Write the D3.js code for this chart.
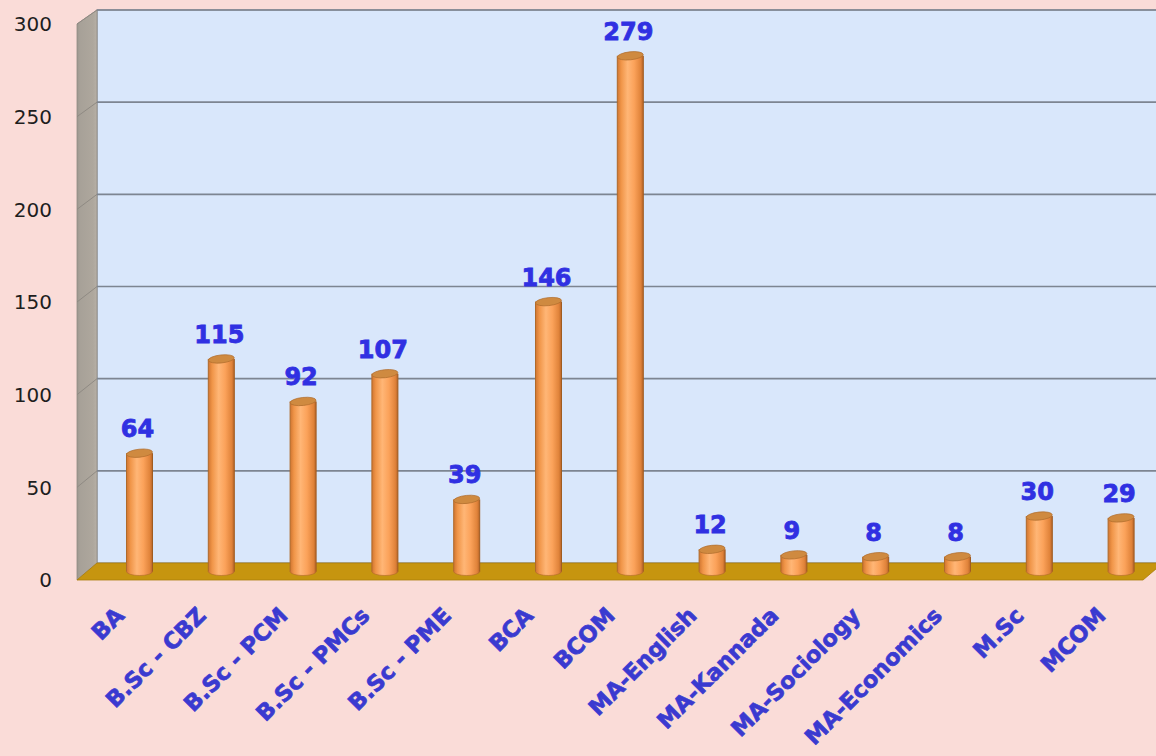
<!DOCTYPE html>
<html><head><meta charset="utf-8">
<script src="https://cdn.jsdelivr.net/npm/d3@7"></script>
<style>html,body{margin:0;padding:0;background:#fadcd8;}svg{display:block;}</style>
</head><body>
<svg id="c" width="1156" height="756"></svg>
<script>
const categories = ["BA","B.Sc - CBZ","B.Sc - PCM","B.Sc - PMCs","B.Sc - PME","BCA","BCOM","MA-English","MA-Kannada","MA-Sociology","MA-Economics","M.Sc","MCOM"];
const values = [64,115,92,107,39,146,279,12,9,8,8,30,29];
const tickValues = [0,50,100,150,200,250,300];

const svg = d3.select("#c");
const W = 1156, H = 756;
svg.append("rect").attr("width",W).attr("height",H).attr("fill","#fadcd8");

const yBack = d3.scaleLinear().domain([0,300]).range([563,10]);
const yFront = d3.scaleLinear().domain([0,300]).range([580,24]);
const yMid = d3.scaleLinear().domain([0,300]).range([571.5,17]);
const x = d3.scaleBand().domain(categories).range([98.6,1162]).padding(0);
const xFront = 77, xBack = 97;
const barW = 26;

const defs = svg.append("defs");
const g1 = defs.append("linearGradient").attr("id","barGrad").attr("x1","0").attr("x2","1").attr("y1","0").attr("y2","0");
[["0%","#d07530"],["15%","#f09548"],["40%","#ffb676"],["65%","#fba25a"],["90%","#e0833a"],["100%","#b66428"]].forEach(s=>g1.append("stop").attr("offset",s[0]).attr("stop-color",s[1]));
const g2 = defs.append("linearGradient").attr("id","sideGrad").attr("x1","0").attr("x2","1").attr("y1","0").attr("y2","0");
[["0%","#9c978f"],["15%","#a7a198"],["80%","#aea79d"],["100%","#b7b0a6"]].forEach(s=>g2.append("stop").attr("offset",s[0]).attr("stop-color",s[1]));

// back wall
svg.append("rect").attr("x",xBack).attr("y",yBack(300)).attr("width",W-xBack+10).attr("height",yBack(0)-yBack(300))
  .attr("fill","#d9e7fb").attr("stroke","#8a8f96").attr("stroke-width",1.2);

// side wall
svg.append("path").attr("d",`M${xFront},${yFront(300)}L${xBack},${yBack(300)}L${xBack},${yBack(0)}L${xFront},${yFront(0)}Z`)
  .attr("fill","url(#sideGrad)").attr("stroke","#8f8a83").attr("stroke-width",0.8);

// gridlines
const gridVals = tickValues.filter(v=>v>0);
svg.selectAll(".grid").data(gridVals).enter().append("line")
  .attr("x1",xBack).attr("x2",W).attr("y1",d=>yBack(d)).attr("y2",d=>yBack(d))
  .attr("stroke","#7d8591").attr("stroke-width",1.6);
svg.selectAll(".sgrid").data(gridVals).enter().append("line")
  .attr("x1",xFront).attr("x2",xBack).attr("y1",d=>yFront(d)).attr("y2",d=>yBack(d))
  .attr("stroke","#8f8a83").attr("stroke-width",1);

// floor
svg.append("path").attr("d",`M${xFront},${yFront(0)}L${xBack},${yBack(0)}L${1163},${yBack(0)}L${1143},${yFront(0)}Z`)
  .attr("fill","#c6950f").attr("stroke","#a97e0a").attr("stroke-width",0.8);

// bars
const bars = svg.selectAll(".bar").data(categories.map((c,i)=>({c,v:values[i]}))).enter().append("g");
const cx = d=>x(d.c)+x.bandwidth()/2;
bars.append("ellipse").attr("cx",cx).attr("cy",yMid(0)).attr("rx",barW/2).attr("ry",4)
  .attr("fill","url(#barGrad)").attr("stroke","#b06a2a").attr("stroke-width",0.6);
bars.append("rect").attr("x",d=>cx(d)-barW/2).attr("y",d=>yMid(d.v)).attr("width",barW)
  .attr("height",d=>yMid(0)-yMid(d.v)).attr("fill","url(#barGrad)");
bars.append("line").attr("x1",d=>cx(d)-barW/2).attr("x2",d=>cx(d)-barW/2)
  .attr("y1",d=>yMid(d.v)).attr("y2",yMid(0)).attr("stroke","#b06a2a").attr("stroke-width",1);
bars.append("line").attr("x1",d=>cx(d)+barW/2).attr("x2",d=>cx(d)+barW/2)
  .attr("y1",d=>yMid(d.v)).attr("y2",yMid(0)).attr("stroke","#a05c20").attr("stroke-width",1);
bars.append("ellipse").attr("cx",cx).attr("cy",d=>yMid(d.v)).attr("rx",barW/2).attr("ry",4)
  .attr("fill","#cf8a40").attr("stroke","#b06c2c").attr("stroke-width",0.7)
  .attr("transform",d=>`rotate(-6,${cx(d)},${yMid(d.v)})`);

// value labels
bars.append("text").attr("x",d=>cx(d)-2).attr("y",d=>yMid(d.v)-16)
  .attr("text-anchor","middle").attr("font-family","DejaVu Sans, Verdana, sans-serif").attr("font-weight","bold")
  .attr("font-size",24).attr("fill","#3030e2").attr("stroke","#3030e2").attr("stroke-width",0.8).text(d=>d.v);

// y tick labels
svg.selectAll(".yt").data(tickValues).enter().append("text")
  .attr("x",52).attr("y",d=>yFront(d)).attr("dy","0.36em").attr("text-anchor","end")
  .attr("font-family","DejaVu Sans, Verdana, sans-serif").attr("font-size",20).attr("fill","#1e1e1e").text(d=>d);

// category labels
svg.selectAll(".xl").data(categories).enter().append("text")
  .attr("transform",d=>`translate(${x(d)+x.bandwidth()/2-14},617) rotate(-45)`)
  .attr("text-anchor","end").attr("font-family","DejaVu Sans, Verdana, sans-serif").attr("font-weight","bold")
  .attr("font-size",22.5).attr("fill","#3a3ad0").attr("stroke","#3a3ad0").attr("stroke-width",0.7).text(d=>d);
</script>
</body></html>
